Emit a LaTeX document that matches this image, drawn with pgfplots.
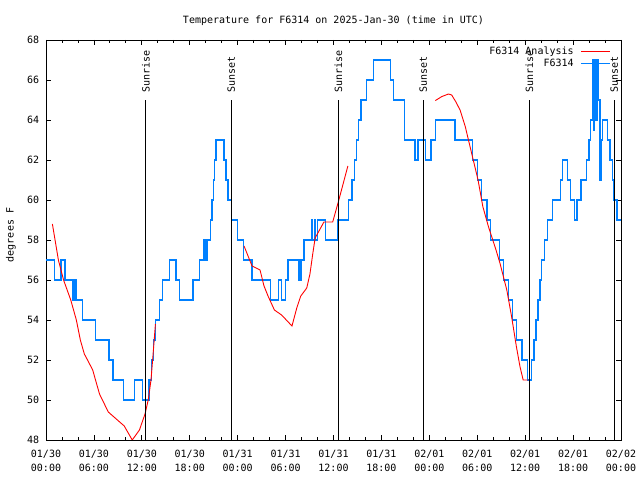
\documentclass[border=0pt]{standalone}
\usepackage{fontspec}
\setmainfont{DejaVu Sans Mono}
\usepackage{pgfplots}
\pgfplotsset{compat=1.18}
\definecolor{obsblue}{RGB}{0,128,255}
\definecolor{anared}{RGB}{255,0,0}
\begin{document}
\fontsize{10bp}{13.6bp}\selectfont
\begin{tikzpicture}
\path[use as bounding box] (0bp,0bp) rectangle (640bp,480bp);
\begin{axis}[at={(46bp,40bp)}, anchor=south west,
  scale only axis, width=575bp, height=400bp,
  xmin=0, xmax=72, ymin=48, ymax=68,
  axis line style={black, line width=0.8bp},
  tick style={black, line width=0.8bp},
  tick align=inside,
  major tick length=4.7bp, minor tick length=2.7bp,
  xtick={0,6,...,72}, minor x tick num=2,
  ytick={48,50,...,68},
  xticklabels={{01/30\\00:00},{01/30\\06:00},{01/30\\12:00},{01/30\\18:00},
    {01/31\\00:00},{01/31\\06:00},{01/31\\12:00},{01/31\\18:00},
    {02/01\\00:00},{02/01\\06:00},{02/01\\12:00},{02/01\\18:00},{02/02\\00:00}},
  xticklabel style={align=center, inner sep=0pt, yshift=-10bp},
  yticklabel style={inner sep=0pt, xshift=-6.7bp},
  /pgf/number format/assume math mode=true,
  legend style={at={(0.983,0.985)}, anchor=north east, draw=none, fill=none,
    inner sep=0pt, row sep=0.2bp,
    nodes={inner sep=1bp, text height=7.5bp, text depth=2bp},
    /tikz/every odd column/.append style={column sep=6bp}},
  legend cell align=right, legend plot pos=right,
  legend image code/.code={\draw[#1] (0bp,0bp) -- (29bp,0bp);},
]
\addlegendimage{anared, line width=0.9bp}
\addlegendentry{F6314 Analysis}
\addlegendimage{obsblue, line width=1.4bp}
\addlegendentry{F6314}

% observed temperature (steps)
\addplot[obsblue, line width=1.4bp, const plot, forget plot] coordinates {
(0,57) (1.1,56) (1.9,57) (2.4,56) (3.4,55) (3.55,56) (3.75,55) (4.6,54)
(6.2,53) (7.9,52) (8.4,51) (9.7,50) (11.1,51) (12.1,50) (12.9,51) (13.2,52)
(13.45,53) (13.7,54) (14.2,55) (14.6,56) (15.5,57) (16.3,56) (16.7,55)
(18.4,56) (19.2,57) (19.7,58) (19.8,57) (19.95,58) (20.1,57) (20.2,58)
(20.6,59) (20.8,60) (20.95,61) (21.1,62) (21.3,63) (22.3,62) (22.55,61)
(22.8,60) (23.2,59) (23.95,58) (24.7,57) (25.8,56) (28.1,55) (29.1,56)
(29.5,55) (30.0,56) (30.3,57) (31.7,56) (31.95,57) (32.3,58) (33.3,59)
(33.4,58) (33.6,59) (33.7,58) (34.0,59) (35.0,58) (36.5,59) (37.9,60)
(38.3,61) (38.6,62) (38.85,63) (39.1,64) (39.45,65) (40.1,66) (41.0,67)
(43.1,66) (43.5,65) (44.9,63) (46.2,62) (46.6,63) (47.5,62) (48.2,63)
(48.75,64) (51.2,63) (53.4,62) (54.0,61) (54.55,60) (55.2,59) (55.65,58)
(56.75,57) (57.25,56) (57.9,55) (58.45,54) (58.9,53) (59.6,52) (60.3,51)
(60.8,52) (61.1,53) (61.35,54) (61.6,55) (61.85,56) (62.05,57) (62.4,58)
(62.8,59) (63.4,60) (64.4,61) (64.7,62) (65.3,61) (65.7,60) (66.2,59)
(66.5,60) (67.0,61) (67.7,62) (68.0,63) (68.2,64) (68.4,67) (68.55,63.5)
(68.7,67) (68.85,64) (69.0,67) (69.15,65) (69.35,61) (69.5,63) (69.7,64)
(70.3,63) (70.6,62) (70.9,61) (71.1,60) (71.5,59) (72,59)
};

% analysis
\addplot[anared, line width=0.9bp, forget plot] coordinates {
(0.8,58.8) (1.55,57) (2.2,56) (3.1,55) (3.8,54) (4.3,53) (4.8,52.3) (5.2,52)
(5.85,51.5) (6.2,51) (6.7,50.3) (7.8,49.4) (9.8,48.7) (10.8,48.0) (11.7,48.5)
(12.4,49.3) (12.8,50) (13.15,51) (13.35,52) (13.55,53) (13.7,53.8)
};
\addplot[anared, line width=0.9bp, forget plot] coordinates {
(24.8,57.7) (25.8,56.7) (26.8,56.5) (27.3,55.7) (27.8,55.2) (28.6,54.5)
(29.5,54.25) (30.8,53.7) (31.4,54.6) (31.9,55.2) (32.65,55.6) (33.05,56.3)
(33.4,57.3) (33.7,58.1) (34.8,58.9) (35.9,58.9) (36.6,59.9) (37.8,61.7)
};
\addplot[anared, line width=0.9bp, forget plot] coordinates {
(48.75,64.97) (49.55,65.17) (50.4,65.3) (50.8,65.25) (51.3,64.92)
(51.85,64.5) (52.5,63.67) (53.0,62.83) (53.5,62.0) (54.1,61.0) (54.7,59.67)
(55.4,58.67) (56.35,57.5) (56.85,56.83) (57.7,55.5) (58.3,54.17)
(58.9,52.67) (59.35,51.67) (59.75,51.0) (60.4,51.0)
};

% sunrise / sunset markers
\addplot[black, line width=1bp, forget plot] coordinates {(12.52,48) (12.52,65)};
\addplot[black, line width=1bp, forget plot] coordinates {(23.2,48) (23.2,65)};
\addplot[black, line width=1bp, forget plot] coordinates {(36.6,48) (36.6,65)};
\addplot[black, line width=1bp, forget plot] coordinates {(47.25,48) (47.25,65)};
\addplot[black, line width=1bp, forget plot] coordinates {(60.52,48) (60.52,65)};
\addplot[black, line width=1bp, forget plot] coordinates {(71.16,48) (71.16,65)};
\node[rotate=90, anchor=west, inner sep=0pt] at ([yshift=7.5bp]axis cs:12.52,65) {Sunrise};
\node[rotate=90, anchor=west, inner sep=0pt] at ([yshift=7.5bp]axis cs:23.2,65) {Sunset};
\node[rotate=90, anchor=west, inner sep=0pt] at ([yshift=7.5bp]axis cs:36.6,65) {Sunrise};
\node[rotate=90, anchor=west, inner sep=0pt] at ([yshift=7.5bp]axis cs:47.25,65) {Sunset};
\node[rotate=90, anchor=west, inner sep=0pt] at ([yshift=7.5bp]axis cs:60.52,65) {Sunrise};
\node[rotate=90, anchor=west, inner sep=0pt] at ([yshift=7.5bp]axis cs:71.16,65) {Sunset};
\end{axis}
\node[anchor=base] at (333.5bp,456bp) {Temperature for F6314 on 2025-Jan-30 (time in UTC)};
\node[rotate=90] at (11bp,245bp) {degrees F};
\end{tikzpicture}
\end{document}
